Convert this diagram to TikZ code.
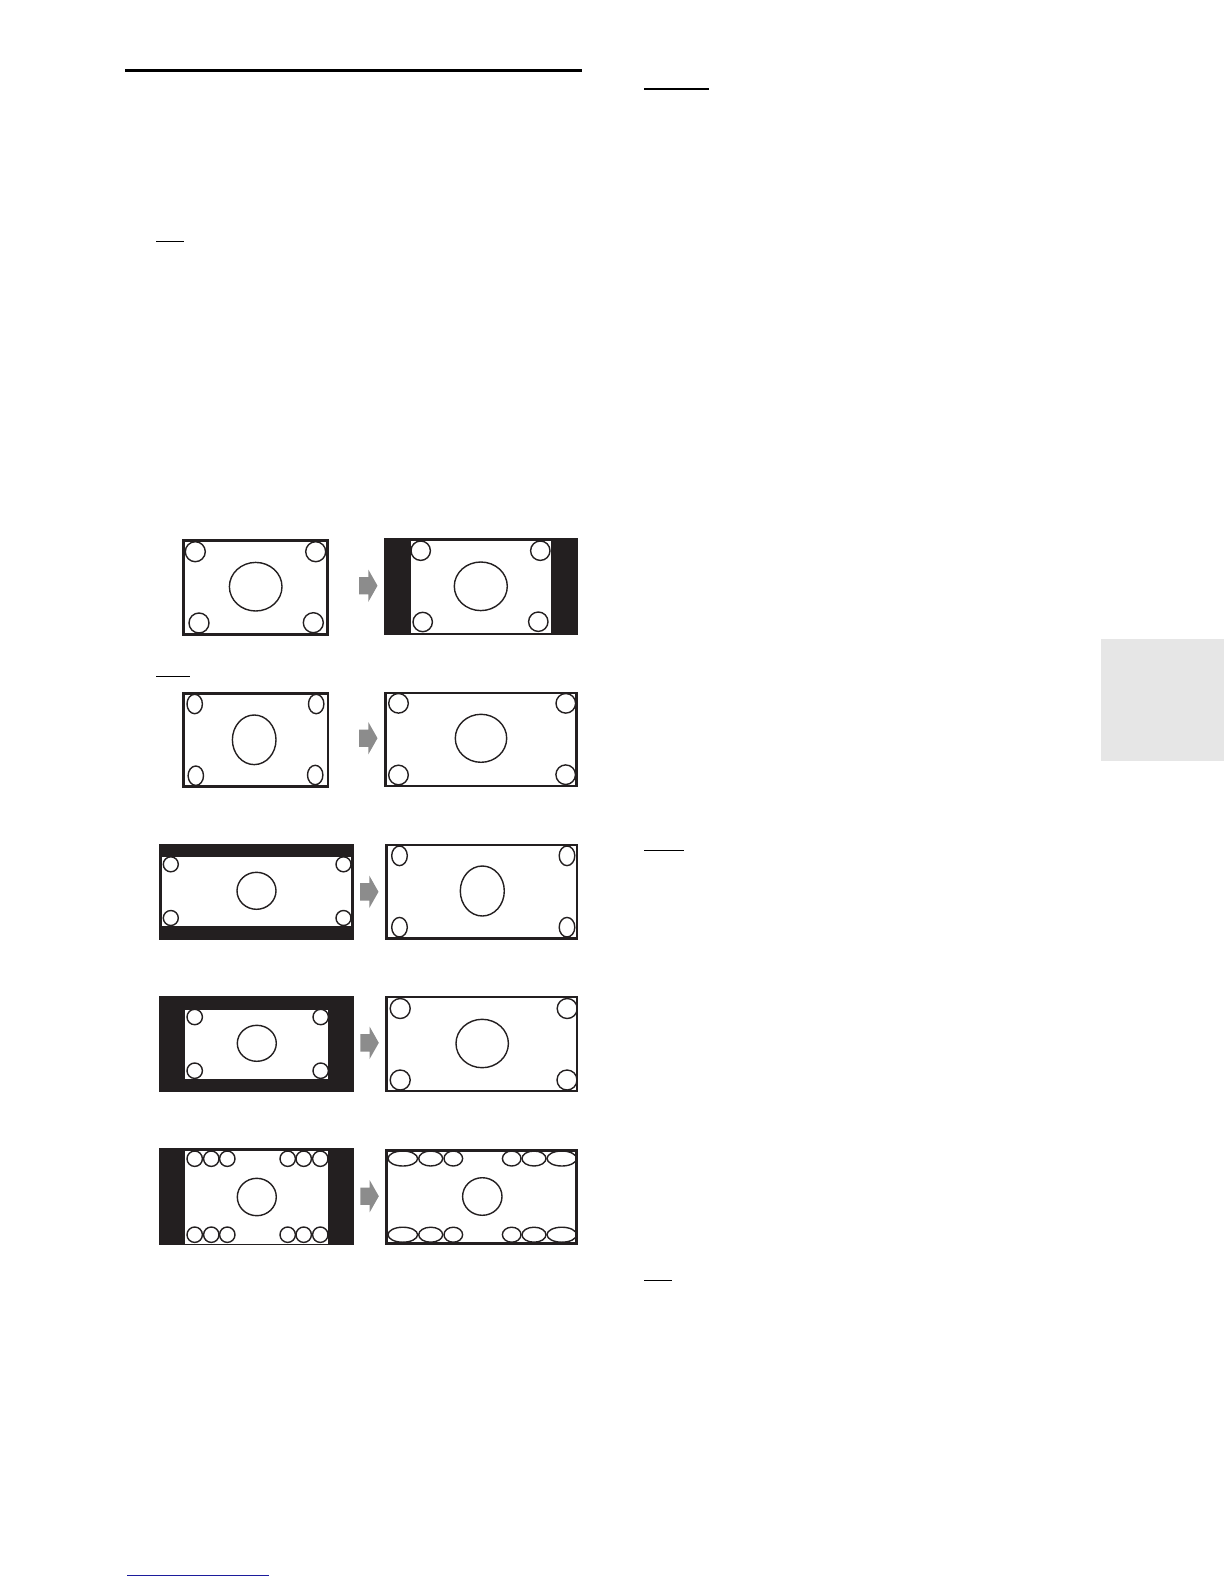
\documentclass[tikz,border=0pt]{standalone}
\usepackage{tikz}
\usetikzlibrary{positioning}
\definecolor{inkblack}{HTML}{231F20}
\definecolor{arrowgray}{HTML}{8C8C8C}
\definecolor{tabgray}{HTML}{E6E6E6}
\definecolor{linkblue}{HTML}{1C1C9C}
\tikzset{screen/.style = {draw = inkblack, line width = 1.15pt}}
\tikzset{bars/.style = {fill = inkblack}}
\tikzset{picture/.style = {fill = white}}
\tikzset{blob/.style = {draw = inkblack, line width = 0.7pt}}
\tikzset{shiftarrow/.style = {fill = arrowgray}}
\tikzset{rule/.style = {draw = black, line width = 0.6pt}}

\begin{document}
\begin{tikzpicture}[x=0.5pt, y=-0.5pt]
      \useasboundingbox (0, 0) rectangle (1224, 1584);

      % page furniture
      \draw [rule, line width = 1.5pt] (125, 70.3) -- (582, 70.3);
      \draw [rule] (644, 89) -- (708.7, 89);
      \draw [rule] (156, 241.3) -- (183.7, 241.3);
      \draw [rule] (156, 676.7) -- (190, 676.7);
      \draw [rule] (644, 850.3) -- (684, 850.3);
      \draw [rule] (644, 1280.3) -- (672, 1280.3);
      \draw [rule, draw = linkblue, line width = 0.65pt] (127, 1575.3) -- (269, 1575.3);
      \fill [tabgray] (1100.7, 639) rectangle (1224, 761.3);

      % gray arrows between the two screens of each row
      \foreach \x/\y in {359/585.7, 359/738.2, 360/891.8, 360.3/1042.8, 360.3/1196.2}
        \fill [shiftarrow] (\x, \y-8.7) -- (\x+9.3, \y-8.7) -- (\x+9.3, \y-16.2)
              -- (\x+18.5, \y) -- (\x+9.3, \y+16.2) -- (\x+9.3, \y+8.7) -- (\x, \y+8.7) -- cycle;

      % row 1
      \draw [screen, line width = 1.35pt] (183.7, 540.7) rectangle (327.7, 634.3);
      \foreach \x/\y in {195.3/551.7, 315.7/551.7, 199/623, 313.3/622.7}
        \draw [blob] (\x, \y) circle [radius = 10];
      \draw [blob] (255.7, 586.7) ellipse [x radius = 26.3, y radius = 24.3];
      \fill [bars] (384.3, 538.3) rectangle (577.7, 635);
      \fill [picture] (411, 540.7) rectangle (551, 632.7);
      \foreach \x/\y in {420.7/550.7, 540.3/550.7, 422.7/622, 538.3/621.7}
        \draw [blob] (\x, \y) circle [radius = 9.7];
      \draw [blob] (480.8, 586.3) ellipse [x radius = 26.5, y radius = 24.3];

      % row 2
      \draw [screen] (183.5, 693.5) rectangle (327.8, 786.5);
      \foreach \x/\y in {194.7/704, 316.2/704, 195.8/775.7, 315.2/775}
        \draw [blob] (\x, \y) ellipse [x radius = 7.7, y radius = 9.7];
      \draw [blob] (254.2, 739.8) ellipse [x radius = 21.8, y radius = 24.8];
      \draw [screen] (385.5, 692.9) rectangle (576.5, 786.1);
      \foreach \x/\y in {398.5/703.3, 565.8/703.3, 398.5/775, 565.7/774.7}
        \draw [blob] (\x, \y) circle [radius = 9.8];
      \draw [blob] (481, 738.3) ellipse [x radius = 25.7, y radius = 24];

      % row 3
      \fill [bars] (159.3, 844) rectangle (354, 940);
      \fill [picture] (162.3, 857.3) rectangle (350.7, 925.7);
      \foreach \x/\y in {170.8/864.3, 343.5/864.3, 170.8/918, 343.5/918}
        \draw [blob] (\x, \y) circle [radius = 7.5];
      \draw [blob] (256.5, 890.8) ellipse [x radius = 19.5, y radius = 18.5];
      \draw [screen] (386.5, 845.2) rectangle (577.1, 938.5);
      \foreach \x/\y in {399.5/855.8, 567/855.8, 399.5/927.2, 567/927.2}
        \draw [blob] (\x, \y) ellipse [x radius = 7.8, y radius = 9.8];
      \draw [blob] (482.3, 891) ellipse [x radius = 22, y radius = 25];

      % row 4
      \fill [bars] (159.3, 996) rectangle (354, 1092);
      \fill [picture] (185, 1010) rectangle (328.3, 1079);
      \foreach \x/\y in {194.7/1017, 320.7/1017, 194.7/1070.7, 320.7/1070.7}
        \draw [blob] (\x, \y) circle [radius = 7.7];
      \draw [blob] (256.8, 1043.3) ellipse [x radius = 19.5, y radius = 18];
      \draw [screen] (386.5, 997.2) rectangle (577.1, 1090.8);
      \foreach \x/\y in {400.2/1008.5, 567.2/1008.5, 400.2/1080, 567/1080}
        \draw [blob] (\x, \y) circle [radius = 10];
      \draw [blob] (482.2, 1043.5) ellipse [x radius = 26.2, y radius = 24.2];

      % row 5
      \fill [bars] (159.3, 1147.7) rectangle (354, 1245);
      \fill [picture] (185, 1150.7) rectangle (328.3, 1244);
      \foreach \x in {194.7, 211.3, 227.3, 287.7, 303.7, 320.3}
        \foreach \y in {1158.7, 1234.7}
          \draw [blob] (\x, \y) circle [radius = 7.7];
      \draw [blob] (256.8, 1197) ellipse [x radius = 19.5, y radius = 18.7];
      \draw [screen, line width = 1.4pt] (386.8, 1150.5) rectangle (576.8, 1243.5);
      \foreach \x/\r in {402.8/14.8, 430.7/12, 453.3/9.3, 511.7/9.3, 534/12, 561.8/14.8}
        \foreach \y in {1158.5, 1234.7}
          \draw [blob] (\x, \y) ellipse [x radius = \r, y radius = 7.5];
      \draw [blob] (482.3, 1196.5) ellipse [x radius = 19.7, y radius = 18.8];

    % stretched versions on the right: circles become ellipses
    \end{tikzpicture}
\end{document}
